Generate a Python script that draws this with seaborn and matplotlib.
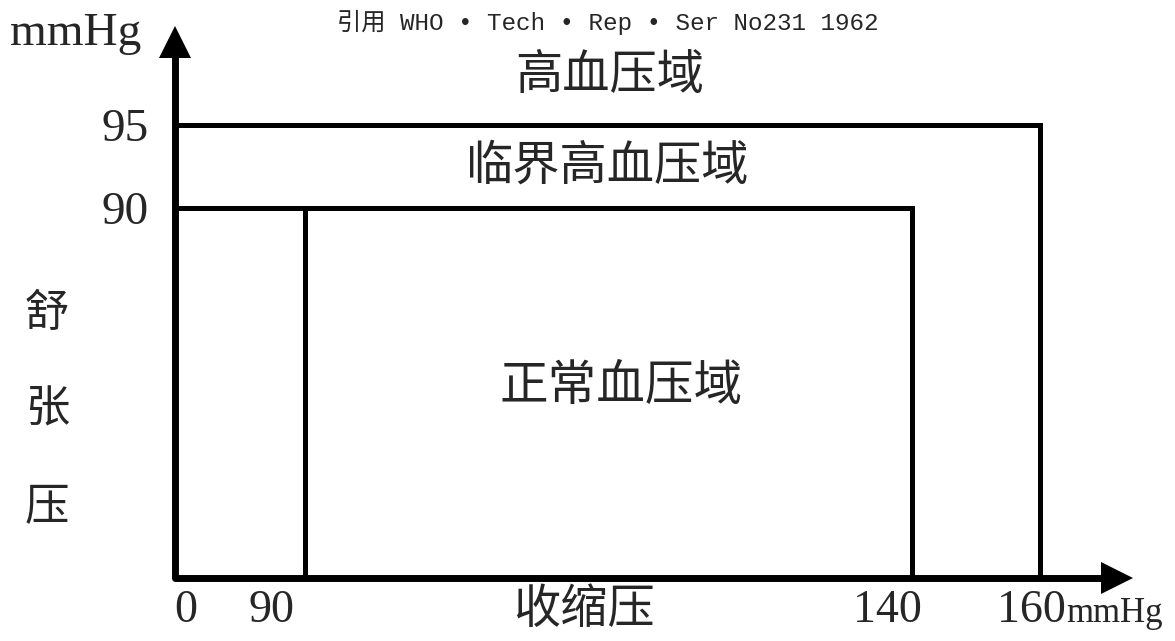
import numpy as np
import pandas as pd
import matplotlib
matplotlib.use("Agg")
import matplotlib.pyplot as plt
import seaborn as sns

# ---- data ----
systolic_limits = [90, 140, 160]          # mmHg (x thresholds)
diastolic_limits = [90, 95]               # mmHg (y thresholds)
region_names = ["高血压域", "临界高血压域", "正常血压域"]
x_tick_labels = ["0", "90", "140", "160"]
y_tick_labels = ["95", "90"]
x_label = "收缩压"
y_label = "舒张压"
unit = "mmHg"
title = "引用 WHO • Tech • Rep • Ser No231 1962"

sns.set_style("white")
plt.rcParams["font.family"] = ["Noto Sans CJK SC", "DejaVu Sans"]

W, H = 1175, 641
fig = plt.figure(figsize=(W / 100, H / 100), dpi=100)
ax = fig.add_axes([0, 0, 1, 1])

# boundaries built from the thresholds
s90, s140, s160 = systolic_limits
d90, d95 = diastolic_limits
segs = []
segs.append(pd.DataFrame({"x": [0, s160, s160], "y": [d95, d95, 0], "seg": "outer"}))
segs.append(pd.DataFrame({"x": [0, s140, s140], "y": [d90, d90, 0], "seg": "inner"}))
segs.append(pd.DataFrame({"x": [s90, s90], "y": [d90, 0], "seg": "left"}))
df = pd.concat(segs, ignore_index=True)

sns.lineplot(data=df, x="x", y="y", units="seg", estimator=None, sort=False,
             color="black", lw=3.6, solid_joinstyle="miter", solid_capstyle="butt",
             legend=False, ax=ax)

# axes with arrows
x_end, y_end = 172, 100
ax.plot([0, 0, x_end], [y_end, 0, 0], color="black", lw=5.0,
        solid_joinstyle="round", solid_capstyle="butt")
ax.plot([x_end], [0], marker=">", ms=22.7, mew=0, color="black")
ax.plot([0], [y_end], marker="^", ms=22.7, mew=0, color="black")

# non-uniform schematic scales
xk_d = [-175, 0, 90, 140, 160, 200]
xk_p = [0, 175, 305, 912, 1040, 1296]
yk_d = [-63, 0, 90, 95, 110]
yk_p = [0, 63, 433, 516, 765]

def fx(v):
    return np.interp(v, xk_d, xk_p)

def ix(v):
    return np.interp(v, xk_p, xk_d)

def fy(v):
    return np.interp(v, yk_d, yk_p)

def iy(v):
    return np.interp(v, yk_p, yk_d)

ax.set_xscale("function", functions=(fx, ix))
ax.set_yscale("function", functions=(fy, iy))
ax.set_xlim(ix(0), ix(W))
ax.set_ylim(iy(0), iy(H))
ax.axis("off")


def put(px, py, s, **kw):
    fig.text(px / W, 1 - py / H, s, ha="center", va="center", **kw)


serif = ["Liberation Serif", "Noto Sans CJK SC"]
cjk = ["Noto Sans CJK SC", "DejaVu Sans"]
mono = ["Liberation Mono", "Noto Sans CJK SC"]

put(608, 22, title, fontsize=17.5, family=mono)
fig.text(10 / W, 1 - 45 / H, unit, ha="left", va="baseline", fontsize=34, family=serif)
put(125, 130, y_tick_labels[0], fontsize=34, family=serif)
put(125, 213, y_tick_labels[1], fontsize=34, family=serif)

put(610, 76, region_names[0], fontsize=34, family=cjk, fontweight="light")
put(608, 166, region_names[1], fontsize=34, family=cjk, fontweight="light")
put(621, 386, region_names[2], fontsize=35, family=cjk, fontweight="light")

for ch, yy in zip(y_label, [313, 409, 507]):
    put(47, yy, ch, fontsize=32, family=cjk, fontweight="light")

put(584, 610, x_label, fontsize=34, family=cjk, fontweight="light")

put(186, 611, x_tick_labels[0], fontsize=33, family=serif)
put(271, 611, x_tick_labels[1], fontsize=33, family=serif)
put(887, 611, x_tick_labels[2], fontsize=33, family=serif)
fig.text(1066 / W, 1 - 611 / H, x_tick_labels[3], ha="right", va="center",
         fontsize=33, family=serif)
fig.text(1066 / W, 1 - 613 / H, unit, ha="left", va="center",
         fontsize=25, family=serif)

fig.savefig("out.png", dpi=100, facecolor="white")
